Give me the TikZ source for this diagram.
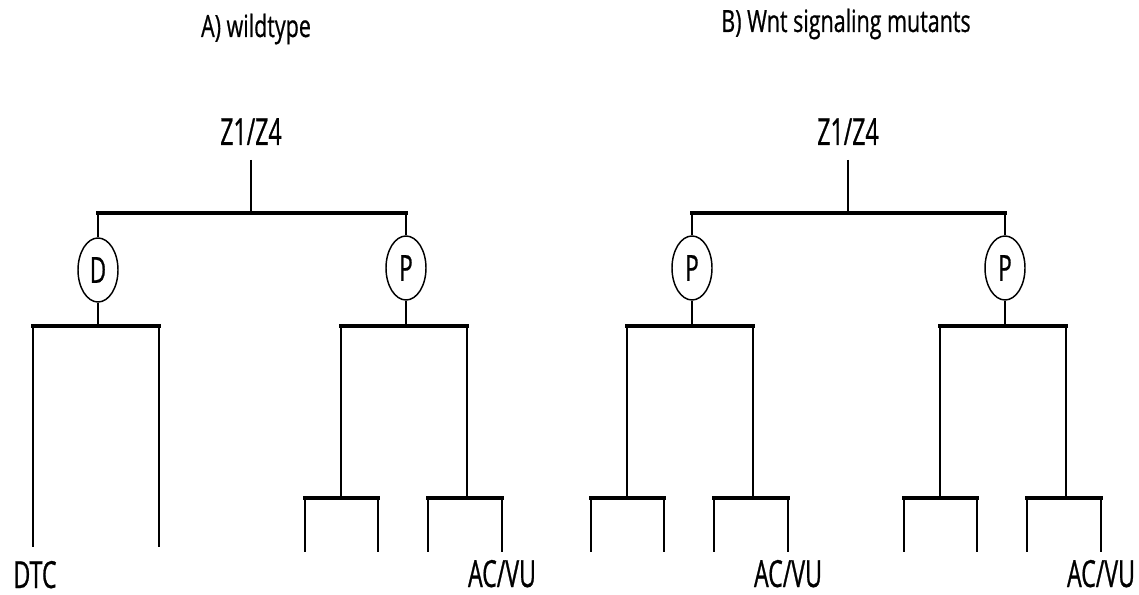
\documentclass[tikz,border=0pt]{standalone}
\usepackage{fontspec}
\newfontfamily\lblfont{Open Sans}[FakeStretch=0.62, FakeBold=0.7]
\newfontfamily\ttlfont{Open Sans}[FakeStretch=0.70, FakeBold=0.6]
\usetikzlibrary{shapes.geometric}
\tikzset{
  vl/.style={line width=1.9pt},
  hb/.style={line width=2.7pt, line cap=rect},
  cell/.style={ellipse, draw, line width=1.1pt, minimum width=30pt, minimum height=48pt,
    inner sep=0pt, font=\lblfont\fontsize{27}{30}\selectfont},
  lbl/.style={anchor=base, inner sep=0pt, text depth=0pt, font=\lblfont\fontsize{28}{30}\selectfont},
  ttl/.style={anchor=base, inner sep=0pt, font=\ttlfont\fontsize{23}{26}\selectfont},
}
% P subtree: #1 prefix, #2 x of the P cell, #3 label under the right-most line
\newcommand\PTree[3]{%
  \coordinate (#1b)  at (#2,326);
  \coordinate (#1L)  at ({#2-65},326);  \coordinate (#1R)  at ({#2+61},326);
  \coordinate (#1Lb) at ({#2-65},498);  \coordinate (#1Rb) at ({#2+61},498);
  \coordinate (#1LL) at ({#2-101},498); \coordinate (#1LR) at ({#2-28},498);
  \coordinate (#1RL) at ({#2+22},498);  \coordinate (#1RR) at ({#2+96},498);
  \coordinate (#1LLe) at ({#2-101},552); \coordinate (#1LRe) at ({#2-28},552);
  \coordinate (#1RLe) at ({#2+22},552);  \coordinate (#1RRe) at ({#2+96},552);
  \draw[vl] (#1.south) -- (#1b);
  \draw[vl] (#1L) -- (#1Lb);
  \draw[vl] (#1R) -- (#1Rb);
  \draw[hb] (#1L) -- (#1R);
  \draw[vl] (#1LL) -- (#1LLe);
  \draw[vl] (#1LR) -- (#1LRe);
  \draw[vl] (#1RL) -- (#1RLe);
  \draw[vl] (#1RR) -- (#1RRe);
  \draw[hb] (#1LL) -- (#1LR);
  \draw[hb] (#1RL) -- (#1RR);
  \node[lbl] (#1lab) at ({#2+96},587) {#3};
}
\begin{document}
\begin{tikzpicture}[x=0.75pt, y=-0.75pt]
\useasboundingbox (0,0) rectangle (1139,595);

% titles
\node[ttl] (tA) at (256,37) {A) wildtype};
\node[ttl] (tB) at (846,32) {B) Wnt signaling mutants};

% ---------------- A) wildtype
\node[lbl] (zA) at (251,145) {Z1/Z4};
\coordinate (rA) at (251,160);
\coordinate (jA) at (251,213);
\coordinate (bA1) at (98,213);
\coordinate (bA2) at (406,213);
\node[cell] (dA) at (98,270) {D};
\node[cell] (pA) at (406,268) {P};
\draw[vl] (rA) -- (jA);
\draw[vl] (bA1) -- (dA.north);
\draw[vl] (bA2) -- (pA.north);
\draw[hb] (bA1) -- (bA2);

% D subtree
\coordinate (dAb) at (98,326);
\coordinate (dAL) at (33,326);
\coordinate (dAR) at (159,326);
\coordinate (dALe) at (33,547);
\coordinate (dARe) at (159,547);
\draw[vl] (dA.south) -- (dAb);
\draw[vl] (dAL) -- (dALe);
\draw[vl] (dAR) -- (dARe);
\draw[hb] (dAL) -- (dAR);
\node[lbl] (dtc) at (35,588) {DTC};

\PTree{pA}{406}{AC/VU}

% ---------------- B) Wnt signaling mutants
\node[lbl] (zB) at (848,145) {Z1/Z4};
\coordinate (rB) at (848,160);
\coordinate (jB) at (848,213);
\coordinate (bB1) at (692,213);
\coordinate (bB2) at (1005,213);
\node[cell] (pB1) at (692,268) {P};
\node[cell] (pB2) at (1005,268) {P};
\draw[vl] (rB) -- (jB);
\draw[vl] (bB1) -- (pB1.north);
\draw[vl] (bB2) -- (pB2.north);
\draw[hb] (bB1) -- (bB2);

\PTree{pB1}{692}{AC/VU}
\PTree{pB2}{1005}{AC/VU}
\end{tikzpicture}
\end{document}
